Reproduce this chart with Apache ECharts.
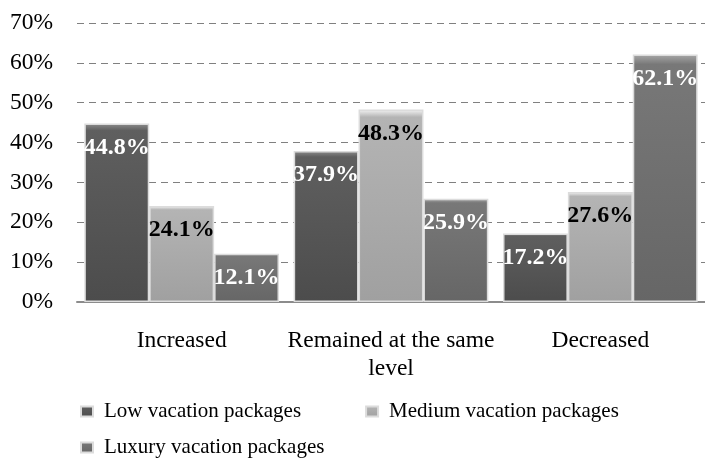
<!DOCTYPE html>
<html>
<head>
<meta charset="utf-8">
<script src="https://cdn.jsdelivr.net/npm/echarts@6/dist/echarts.min.js"></script>
<style>
  html, body { margin: 0; padding: 0; background: #fff; }
  #chart { width: 705px; height: 459px; }
</style>
</head>
<body>
<div id="chart"></div>
<script>
const categories = ['Increased', 'Remained at the same\nlevel', 'Decreased']
const seriesNames = ['Low vacation packages', 'Medium vacation packages', 'Luxury vacation packages']
const lowValues = [44.8, 37.9, 17.2]
const mediumValues = [24.1, 48.3, 27.6]
const luxuryValues = [12.1, 25.9, 62.1]
const yTicks = [0, 10, 20, 30, 40, 50, 60, 70]

const font = '"Liberation Serif", "Times New Roman", serif'

const barFill = (top, mid, bottom) => new echarts.graphic.LinearGradient(0, 0, 0, 1, [
  { offset: 0, color: top },
  { offset: 0.04, color: mid },
  { offset: 1, color: bottom }
])

const makeSeries = (name, data, fill, labelColor) => ({
  name,
  type: 'bar',
  data,
  barGap: '0%',
  barCategoryGap: '7%',
  itemStyle: {
    color: fill,
    borderColor: '#dcdcdc',
    borderWidth: 1.5
  },
  label: {
    show: true,
    position: 'insideTop',
    distance: 12,
    formatter: '{c}%',
    color: labelColor,
    fontFamily: font,
    fontWeight: 'bold',
    fontSize: 24
  }
})

const legendText = {
  fontFamily: font,
  fontSize: 21,
  color: '#000',
  padding: [0, 0, 0, 6]
}

const chart = echarts.init(document.getElementById('chart'))

chart.setOption({
  animation: false,
  backgroundColor: '#fff',
  grid: {
    left: 77,
    right: -11,
    top: 23,
    bottom: 157
  },
  legend: [
    {
      data: seriesNames.slice(0, 2),
      left: 80,
      top: 401,
      itemWidth: 12,
      itemHeight: 10,
      itemGap: 64,
      icon: 'rect',
      padding: 0,
      textStyle: legendText
    },
    {
      data: seriesNames.slice(2),
      left: 80,
      top: 437,
      itemWidth: 12,
      itemHeight: 10,
      icon: 'rect',
      padding: 0,
      textStyle: legendText
    }
  ],
  xAxis: {
    type: 'category',
    data: categories,
    axisLine: { lineStyle: { color: '#8c8c8c', width: 2 } },
    axisTick: { show: false },
    axisLabel: {
      fontFamily: font,
      fontSize: 23.5,
      color: '#000',
      margin: 25,
      lineHeight: 28,
      interval: 0
    }
  },
  yAxis: {
    type: 'value',
    min: yTicks[0],
    max: yTicks[yTicks.length - 1],
    interval: 10,
    axisLine: { show: false },
    axisTick: { show: false },
    axisLabel: {
      formatter: '{value}%',
      fontFamily: font,
      fontSize: 23.5,
      color: '#000',
      margin: 24
    },
    splitLine: {
      lineStyle: { color: '#808080', type: [7, 5], width: 1.2 }
    }
  },
  series: [
    makeSeries(seriesNames[0], lowValues, barFill('#8e8e8e', '#5f5f5f', '#4c4c4c'), '#fff'),
    makeSeries(seriesNames[1], mediumValues, barFill('#f4f4f4', '#b4b4b4', '#a0a0a0'), '#000'),
    makeSeries(seriesNames[2], luxuryValues, barFill('#a8a8a8', '#787878', '#666666'), '#fff')
  ]
})
</script>
</body>
</html>
